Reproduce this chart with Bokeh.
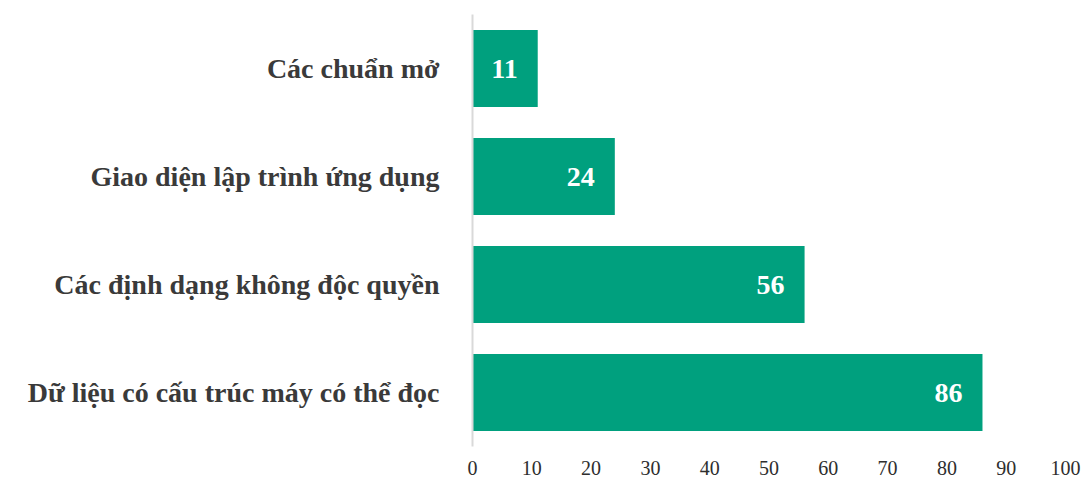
from bokeh.plotting import figure
from bokeh.models import FactorRange, ColumnDataSource, FixedTicker
from bokeh.core.properties import value
from bokeh.embed import file_html
from bokeh.resources import INLINE

categories = ["Các chuẩn mở", "Giao diện lập trình ứng dụng",
              "Các định dạng không độc quyền", "Dữ liệu có cấu trúc máy có thể đọc"]
values = [11, 24, 56, 86]
x_ticks = [0, 10, 20, 30, 40, 50, 60, 70, 80, 90, 100]

FONT = "Liberation Serif"
GREEN = "#00a07e"

src = ColumnDataSource(dict(cat=categories, val=values, lbl=[str(v) for v in values]))

p = figure(width=1084, height=486, output_backend="svg", toolbar_location=None,
           y_range=FactorRange(*reversed(categories), range_padding=0),
           x_range=(0, 100), min_border_left=472, min_border_right=19,
           min_border_top=14, min_border_bottom=40)
p.outline_line_color = None
p.xgrid.grid_line_color = None
p.ygrid.grid_line_color = None

p.hbar(y="cat", right="val", left=0, height=0.715, source=src,
       fill_color=GREEN, line_color=None)
p.text(x="val", y="cat", text="lbl", source=src, x_offset=-20,
       text_align="right", text_baseline="middle", text_color="white",
       text_font=value(FONT), text_font_style="bold", text_font_size="28px")

p.xaxis.ticker = FixedTicker(ticks=x_ticks)
p.xaxis.axis_line_color = None
p.xaxis.major_tick_line_color = None
p.xaxis.minor_tick_line_color = None
p.xaxis.major_label_text_font = FONT
p.xaxis.major_label_text_font_size = "20px"
p.xaxis.major_label_text_color = "#2e2e2e"
p.xaxis.major_label_standoff = 8

p.yaxis.axis_line_color = "#d9d9d9"
p.yaxis.axis_line_width = 2
p.yaxis.major_tick_line_color = None
p.yaxis.minor_tick_line_color = None
p.yaxis.major_label_text_font = FONT
p.yaxis.major_label_text_font_style = "bold"
p.yaxis.major_label_text_font_size = "28px"
p.yaxis.major_label_text_color = "#3a3a3a"
p.yaxis.major_label_standoff = 27

open("out.html", "w").write(file_html(p, INLINE))
